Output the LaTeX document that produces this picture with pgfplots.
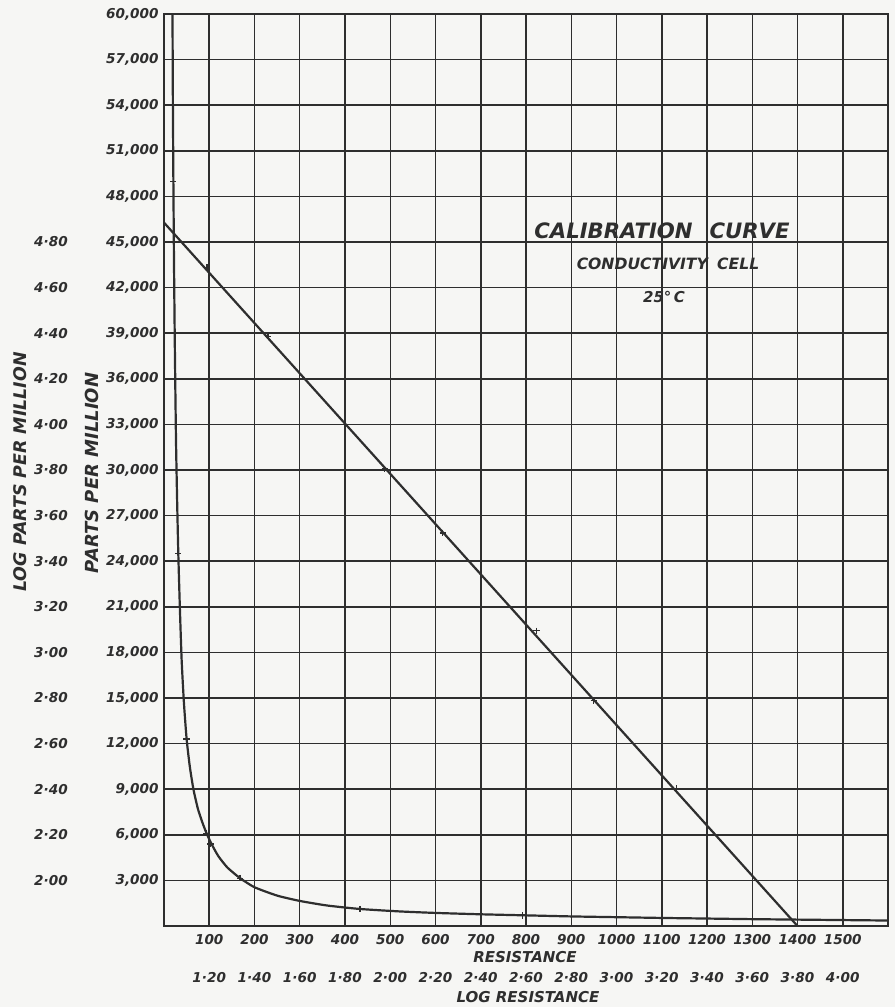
\documentclass[border=0pt]{standalone}
\usepackage{pgfplots}
\pgfplotsset{compat=1.18}
\usepackage{fontspec}
\setmainfont{DejaVu Sans}
\definecolor{ink}{HTML}{2E2E2E}
\definecolor{paper}{HTML}{F6F6F4}
\newcommand\tl[1]{\textbf{\textit{#1}}}
\begin{document}
\begin{tikzpicture}
\fill[paper] (-82pt,-40.5pt) rectangle (365.5pt,463pt);
% ---------------- primary axis: resistance vs parts per million
\begin{axis}[at={(0,0)}, anchor=south west,
  width=362pt, height=456pt, scale only axis,
  xmin=0, xmax=1600, ymin=0, ymax=60000,
  xtick={100,200,300,400,500,600,700,800,900,1000,1100,1200,1300,1400,1500},
  xticklabels={\tl{100},\tl{200},\tl{300},\tl{400},\tl{500},\tl{600},\tl{700},\tl{800},\tl{900},\tl{1000},\tl{1100},\tl{1200},\tl{1300},\tl{1400},\tl{1500}},
  ytick={3000,6000,9000,12000,15000,18000,21000,24000,27000,30000,33000,36000,39000,42000,45000,48000,51000,54000,57000,60000},
  yticklabels={\tl{3,000},\tl{6,000},\tl{9,000},\tl{12,000},\tl{15,000},\tl{18,000},\tl{21,000},\tl{24,000},\tl{27,000},\tl{30,000},\tl{33,000},\tl{36,000},\tl{39,000},\tl{42,000},\tl{45,000},\tl{48,000},\tl{51,000},\tl{54,000},\tl{57,000},\tl{60,000}},
  grid=major, major grid style={ink, line width=0.75pt},
  axis line style={ink, line width=0.9pt},
  major tick length=0pt,
  xticklabel style={font=\fontsize{6.8}{8}\selectfont, anchor=center, yshift=-7pt, inner sep=0pt, text=ink},
  yticklabel style={font=\fontsize{6.8}{8}\selectfont, anchor=east, xshift=-2.5pt, inner sep=0pt, text=ink},
  scaled ticks=false]
\addplot[ink, line width=1.1pt, smooth, tension=0.35] coordinates {
 (18.8,60000) (19.5,55000) (20.5,50000) (22,44000) (24,38000) (26.5,32000)
 (29,28000) (31.6,24500) (35,21000) (39,17500) (44,14700) (50,12300)
 (57,10500) (65,9000) (75,7700) (85,6800) (94,6100) (105,5400) (120,4600)
 (140,3850) (168,3150) (200,2550) (250,2000) (300,1650) (360,1350) (433,1120)
 (520,960) (600,860) (700,770) (800,700) (900,630) (1000,580) (1100,530)
 (1200,490) (1300,450) (1400,420) (1500,390) (1600,360)};
\addplot[only marks, mark=+, mark size=1.6pt, ink, line width=0.6pt] coordinates {
 (20.5,49000) (31.6,24500) (50,12300) (94,6100) (103,5400) (168,3150) (433,1120) (793,700)};
\end{axis}
% ---------------- secondary axis: log resistance vs log parts per million
\begin{axis}[at={(0,0)}, anchor=south west,
  width=362pt, height=456pt, scale only axis,
  xmin=1.0, xmax=4.2, ymin=1.8, ymax=5.8,
  axis line style={draw=none}, major tick length=0pt,
  xtick={1.2,1.4,1.6,1.8,2.0,2.2,2.4,2.6,2.8,3.0,3.2,3.4,3.6,3.8,4.0},
  xticklabels={\tl{1·20},\tl{1·40},\tl{1·60},\tl{1·80},\tl{2·00},\tl{2·20},\tl{2·40},\tl{2·60},\tl{2·80},\tl{3·00},\tl{3·20},\tl{3·40},\tl{3·60},\tl{3·80},\tl{4·00}},
  ytick={2.0,2.2,2.4,2.6,2.8,3.0,3.2,3.4,3.6,3.8,4.0,4.2,4.4,4.6,4.8},
  yticklabels={\tl{2·00},\tl{2·20},\tl{2·40},\tl{2·60},\tl{2·80},\tl{3·00},\tl{3·20},\tl{3·40},\tl{3·60},\tl{3·80},\tl{4·00},\tl{4·20},\tl{4·40},\tl{4·60},\tl{4·80}},
  xticklabel style={font=\fontsize{6.8}{8}\selectfont, anchor=center, yshift=-26pt, inner sep=0pt, text=ink},
  yticklabel style={font=\fontsize{6.8}{8}\selectfont, anchor=center, xshift=-56.5pt, inner sep=0pt, text=ink},
  scaled ticks=false]
\addplot[ink, line width=1.1pt] coordinates {(1.0,4.885) (3.8,1.8)};
\addplot[only marks, mark=+, mark size=1.6pt, ink, line width=0.6pt] coordinates {
 (1.19,4.688) (1.46,4.387) (1.976,3.804) (2.232,3.524) (2.646,3.095) (2.90,2.789) (3.264,2.404)};
\end{axis}
% ---------------- labels
\begin{scope}[every node/.style={text=ink, inner sep=0pt}]
\node[font=\fontsize{7.5}{9}\selectfont\bfseries\itshape] at (180.5pt,-15.5pt) {RESISTANCE};
\node[font=\fontsize{7.5}{9}\selectfont\bfseries\itshape] at (182pt,-35.5pt) {LOG RESISTANCE};
\node[rotate=90, font=\fontsize{8.7}{10}\selectfont\bfseries\itshape] at (-72pt,227pt) {LOG PARTS PER MILLION};
\node[rotate=90, font=\fontsize{9}{10}\selectfont\bfseries\itshape] at (-36pt,226.5pt) {PARTS PER MILLION};
\node[font=\fontsize{10.6}{12}\selectfont\bfseries\itshape] at (249pt,347.5pt) {CALIBRATION\hspace{0.8em}CURVE};
\node[font=\fontsize{7.8}{9}\selectfont\bfseries\itshape] at (252pt,331pt) {CONDUCTIVITY\hspace{0.6em}CELL};
\node[font=\fontsize{7.5}{9}\selectfont\bfseries\itshape] at (250pt,314.5pt) {25°\,C};
\end{scope}
\pgfresetboundingbox
\path[use as bounding box] (-82pt,-40.5pt) rectangle (365.5pt,463pt);
\end{tikzpicture}
\end{document}
